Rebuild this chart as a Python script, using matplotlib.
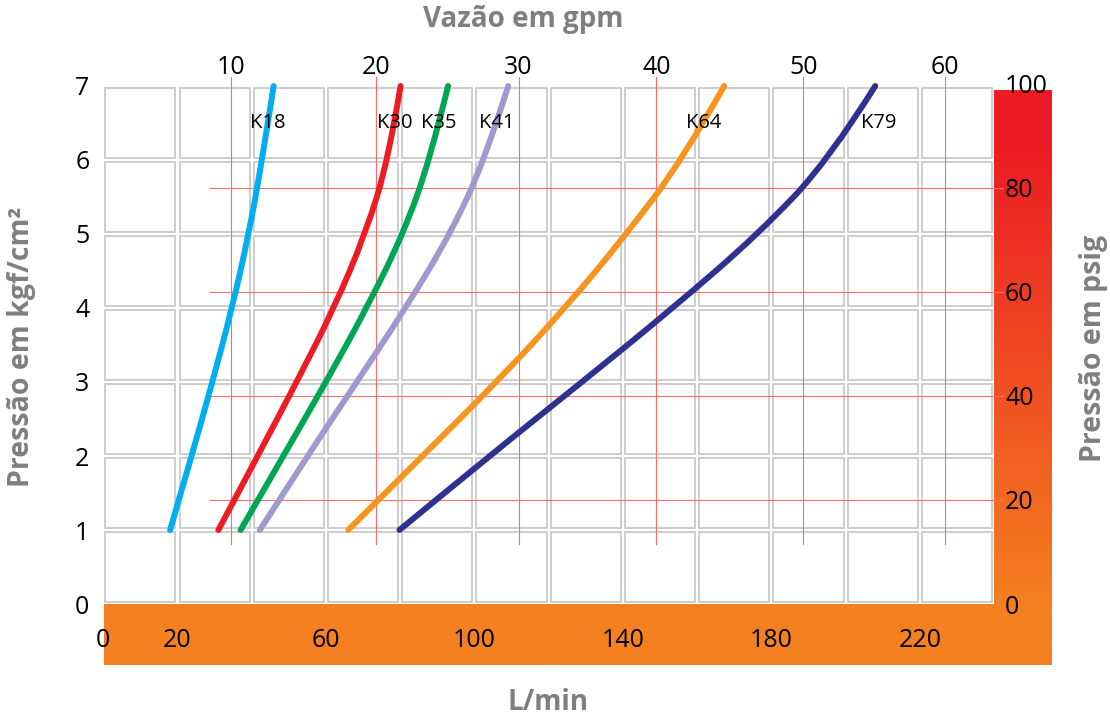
import numpy as np
import matplotlib
matplotlib.use("Agg")
import matplotlib.pyplot as plt
from matplotlib.patches import Rectangle, PathPatch
from matplotlib.path import Path

plt.rcParams['font.family'] = ['Open Sans', 'DejaVu Sans']

# dados (pressão em kgf/cm2 -> vazão em L/min)
pressao = [1, 2, 3, 4, 5, 6, 7]
k18 = [18.0, 23.8, 29.4, 34.7, 39.2, 42.8, 45.9]
k30 = [31.0, 41.6, 52.1, 62.2, 70.6, 76.8, 80.1]
k35 = [37.0, 48.5, 60.0, 71.0, 80.8, 88.0, 92.9]
k41 = [42.2, 55.0, 68.3, 81.5, 93.5, 102.8, 109.1]
k64 = [66.0, 86.0, 106.0, 124.5, 141.0, 156.0, 167.3]
k79 = [79.8, 104.0, 129.0, 153.5, 176.5, 195.5, 208.0]
nomes = ["K18", "K30", "K35", "K41", "K64", "K79"]
cores = ["#00aeef", "#ed1c24", "#00a651", "#9e9ad0", "#f7941d", "#2e3192"]

lmin_ticks = [0, 20, 60, 100, 140, 180, 220]
kgf_ticks = [0, 1, 2, 3, 4, 5, 6, 7]
psig_ticks = [0, 20, 40, 60, 80, 100]
gpm_ticks = [10, 20, 30, 40, 50, 60]
gpm_em_lmin = [34.4, 73.4, 111.9, 149.0, 188.6, 226.8]  # posição das linhas gpm na escala L/min

PSI = 14.223  # psi por kgf/cm2

W, H = 1110, 720
fig = plt.figure(figsize=(W / 100, H / 100), dpi=100)

def fx(px):
    return px / W

def fy(py):
    return 1 - py / H

def curva(xs, ys):
    """caminho suave (bezier quadrática) usando os pontos lidos como controles"""
    pts = list(zip(xs, ys))
    verts = [pts[0]]
    codes = [Path.MOVETO]
    for i in range(1, len(pts) - 1):
        meio = ((pts[i][0] + pts[i + 1][0]) / 2, (pts[i][1] + pts[i + 1][1]) / 2)
        if i == len(pts) - 2:
            meio = pts[-1]
        verts += [pts[i], meio]
        codes += [Path.CURVE3, Path.CURVE3]
    return Path(verts, codes)

# faixa laranja / degradê
band = fig.add_axes([fx(104), fy(665), fx(1052 - 104), (665 - 90) / H])
band.set_zorder(0)
c_top = np.array([236, 28, 36]) / 255
c_bot = np.array([244, 128, 32]) / 255
t = np.linspace(0, 1, 256)
t = np.clip((t - 0.1) / 0.8, 0, 1)[:, None]
grad = (c_top * (1 - t) + c_bot * t)[:, None, :]
band.imshow(grad, aspect='auto', extent=[0, 1, 0, 1], origin='upper')
band.set_axis_off()

ymax = 7.04
ax = fig.add_axes([fx(103.3), fy(604), fx(994 - 103.3), (74 * ymax) / H])
ax.set_zorder(1)
ax.set_xlim(0, 240)
ax.set_ylim(0, ymax)
for s in ax.spines.values():
    s.set_visible(False)

# células da grade
dx, dy = 0.55, 0.028
for i in range(12):
    for j in range(7):
        ax.add_patch(Rectangle((i * 20 + dx, j + dy), 20 - 2 * dx, 1 - 2 * dy,
                               facecolor='white', edgecolor='#c9c9c9', lw=1.3, zorder=1))

# linhas vermelhas finas (gpm e psig)
for g in gpm_em_lmin:
    ax.plot([g, g], [0.81, 7.12], color='#ff6b6b', lw=0.8, zorder=2, clip_on=False)
for p in psig_ticks[1:-1]:
    ax.plot([28.7, 242.5], [p / PSI, p / PSI], color='#ff6b6b', lw=0.8, zorder=2, clip_on=False)

series = [k18, k30, k35, k41, k64, k79]
alinh = ['center', 'center', 'center', 'center', 'center', 'left']
for nome, cor, q, ha in zip(nomes, cores, series, alinh):
    ax.add_patch(PathPatch(curva(q, pressao), facecolor='none', edgecolor=cor, lw=4.3,
                           capstyle='round', joinstyle='round', zorder=3))
    xl = np.interp(6.5, pressao, q)
    if ha == 'left':
        xl += 2.5
    ax.text(xl, 6.5, nome, ha=ha, va='center', fontsize=14.5, color='black', zorder=4)

ax.set_xticks(lmin_ticks)
ax.set_xticklabels([str(v) for v in lmin_ticks])
ax.set_yticks(kgf_ticks)
ax.tick_params(axis='x', length=0, pad=17, labelsize=18)
ax.tick_params(axis='y', length=0, pad=10, labelsize=18)

top = ax.secondary_xaxis('top')
top.set_xticks(gpm_em_lmin)
top.set_xticklabels([str(v) for v in gpm_ticks])
top.tick_params(length=0, pad=2, labelsize=18)
top.spines['top'].set_visible(False)

dir_ = ax.secondary_yaxis('right', functions=(lambda y: y * PSI, lambda p: p / PSI))
dir_.set_yticks(psig_ticks)
dir_.tick_params(length=0, pad=8, labelsize=18)
dir_.spines['right'].set_visible(False)

cinza = '#7f7f7f'
fig.text(fx(523), fy(20), "Vazão em gpm", ha='center', va='center', fontsize=20,
         fontweight='bold', color=cinza)
fig.text(fx(548), fy(703), "L/min", ha='center', va='center', fontsize=20,
         fontweight='bold', color=cinza)
fig.text(fx(22), fy(347), "Pressão em kgf/cm²", ha='center', va='center', rotation=90,
         fontsize=20.5, fontweight='bold', color=cinza)
fig.text(fx(1093), fy(348), "Pressão em psig", ha='center', va='center', rotation=90,
         fontsize=20.5, fontweight='bold', color=cinza)

fig.savefig("out.png", dpi=100)
